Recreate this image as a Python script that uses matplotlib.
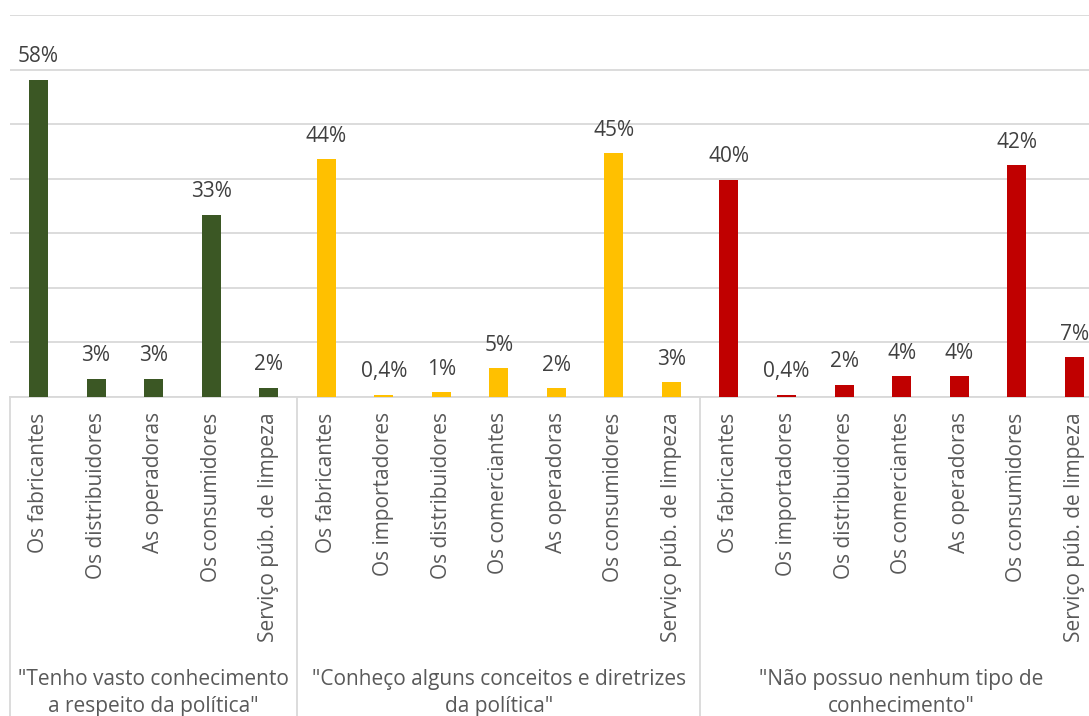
import matplotlib
matplotlib.use("Agg")
import matplotlib.pyplot as plt
from matplotlib.transforms import blended_transform_factory

plt.rcParams['font.family'] = ['Open Sans', 'DejaVu Sans']

# Knowledge level groups (two-line captions)
groups = [
    '"Tenho vasto conhecimento\na respeito da política"',
    '"Conheço alguns conceitos e diretrizes\nda política"',
    '"Não possuo nenhum tipo de\nconhecimento"',
]

cats_vasto = ["Os fabricantes", "Os distribuidores", "As operadoras",
              "Os consumidores", "Serviço púb. de limpeza"]
cats_alguns = ["Os fabricantes", "Os importadores", "Os distribuidores",
               "Os comerciantes", "As operadoras", "Os consumidores",
               "Serviço púb. de limpeza"]
cats_nenhum = ["Os fabricantes", "Os importadores", "Os distribuidores",
               "Os comerciantes", "As operadoras", "Os consumidores",
               "Serviço púb. de limpeza"]

# Percentages per group
vals_vasto = [58.1, 3.3, 3.3, 33.4, 1.7]
vals_alguns = [43.6, 0.4, 0.9, 5.3, 1.6, 44.7, 2.7]
vals_nenhum = [39.8, 0.4, 2.2, 3.8, 3.8, 42.5, 7.3]

colors = ["#3B5724", "#FFC000", "#C00000"]

cats_all = [cats_vasto, cats_alguns, cats_nenhum]
vals_all = [vals_vasto, vals_alguns, vals_nenhum]

W, H = 1089, 716
fig = plt.figure(figsize=(W / 100, H / 100), dpi=100)

# axes geometry in pixels
x_left, x_right = 9.7, 1103.0
y_top, y_base = 15.0, 397.0
ax = fig.add_axes([x_left / W, 1 - y_base / H,
                   (x_right - x_left) / W, (y_base - y_top) / H])

text_col = "#595959"
grid_col = "#D9D9D9"

def fmt(v):
    r = round(v)
    if r == 0:
        return f"{v:.1f}".replace(".", ",") + "%"
    return f"{r:d}%"

labels = []
pos = 0
bounds = [-0.5]
for cats, vals, col in zip(cats_all, vals_all, colors):
    xs = list(range(pos, pos + len(vals)))
    ax.bar(xs, vals, width=0.33, color=col, zorder=3)
    for x, v in zip(xs, vals):
        ax.annotate(fmt(v), (x, v), xytext=(0, 9), textcoords="offset points",
                    ha="center", va="bottom", fontsize=15, color="#404040")
    labels += cats
    pos += len(vals)
    bounds.append(pos - 0.5)

ax.set_xlim(-0.5, pos - 0.5)
ax.set_ylim(0, 70)
ax.set_yticks(range(0, 71, 10))
ax.yaxis.grid(True, color=grid_col, linewidth=1.3, zorder=0)
ax.tick_params(axis="y", length=0, labelleft=False)

ax.set_xticks(range(pos))
ax.set_xticklabels(labels, rotation=90, fontsize=15, color=text_col)
ax.tick_params(axis="x", length=0, pad=11)

for s in ["left", "right", "top"]:
    ax.spines[s].set_visible(False)
ax.spines["bottom"].set_color(grid_col)
ax.spines["bottom"].set_linewidth(1.3)

# group separators below the baseline
trans = blended_transform_factory(ax.transData, ax.transAxes)
drop = (H - y_base) / (y_base - y_top)
for b in bounds:
    ax.plot([b, b], [0, -drop - 0.05], transform=trans, color=grid_col,
            linewidth=1.3, clip_on=False)

# group captions
cap_y = -(669 - y_base) / (y_base - y_top)
for i, g in enumerate(groups):
    c = (bounds[i] + bounds[i + 1]) / 2
    ax.text(c, cap_y, g, transform=trans, ha="center", va="top",
            fontsize=15, color=text_col, linespacing=1.35)

fig.savefig("out.png", dpi=100)
